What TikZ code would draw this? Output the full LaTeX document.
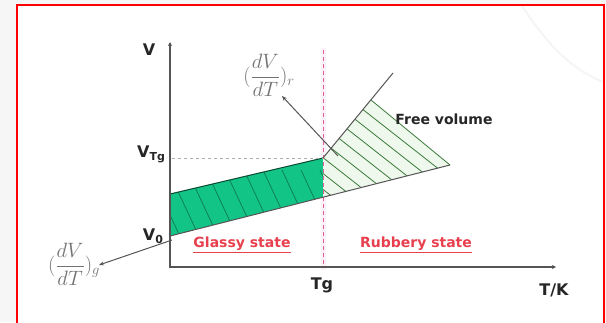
\documentclass[tikz,border=0pt]{standalone}
\usepackage{fontspec}
\setsansfont{DejaVu Sans}
\usetikzlibrary{arrows.meta,calc}
\definecolor{glassgreen}{HTML}{12C486}
\definecolor{hatchdark}{HTML}{0E7A52}
\definecolor{freefill}{HTML}{EEF8EC}
\definecolor{freehatch}{HTML}{3A7A3A}
\definecolor{axisgray}{HTML}{555555}
\definecolor{statered}{HTML}{E8404F}
\definecolor{tgpink}{HTML}{E0609A}
\begin{document}
\begin{tikzpicture}[x=1pt,y=-1pt,
  axislab/.style={font=\sffamily\bfseries\fontsize{16}{18}\selectfont, text=black!85, inner sep=0pt},
  freelab/.style={font=\sffamily\bfseries\fontsize{14}{16}\selectfont, text=black!85, inner sep=0pt},
  statelab/.style={font=\sffamily\bfseries\fontsize{14}{16}\selectfont, text=statered, inner sep=0pt},
  fraclab/.style={text=black!55, font=\fontsize{20}{24}\selectfont, inner sep=0pt},
  axisline/.style={draw=axisgray, line width=1.1pt},
  curve/.style={draw=axisgray, line width=1pt},
  tip/.style={-{Stealth[length=5pt,width=4pt]}}]
\useasboundingbox (0,0) rectangle (606,322);
% background and frame
\fill[gray!7] (0,0) rectangle (606,322);
\fill[white] (17,5) rectangle (604,322);
\draw[gray!8, line width=2pt] (522,6) .. controls (548,45) and (570,68) .. (603,82);
\draw[red, line width=2pt] (17,324) -- (17,5) -- (604,5) -- (604,324);

% key points
\coordinate (O) at (170,267);
\coordinate (ytop) at (170,42);
\coordinate (xend) at (556,267);
\coordinate (G1) at (170,194);
\coordinate (G2) at (323,158);
\coordinate (G3) at (323,197.2);
\coordinate (G4) at (170,236);
\coordinate (B) at (371,100);
\coordinate (C) at (450,165);
\coordinate (R) at (393,73);

% Tg marker line (soft band)
\draw[tgpink!9, line width=5pt] (323,48) -- (323,270);

% glassy region
\fill[glassgreen] (G1) -- (G2) -- (G3) -- (G4) -- cycle;
\begin{scope}
  \clip (G1) -- (G2) -- (G3) -- (G4) -- cycle;
  \foreach \x in {130,149,...,340} \draw[hatchdark, line width=0.7pt] (\x,170) -- ++(35,75);
\end{scope}
\draw[hatchdark!60!black, line width=1pt] (G1) -- (G2);

% free volume region
\fill[freefill] (G2) -- (B) -- (C) -- (G3) -- cycle;
\begin{scope}
  \clip (G2) -- (B) -- (C) -- (G3) -- cycle;
  \foreach \k in {1,...,12} \draw[freehatch, line width=0.8pt] ({371-7.97*\k},{100+9.63*\k}) ++(-79,-62) -- ++(158,124);
\end{scope}
\draw[freehatch, line width=0.8pt] (B) -- (C);

% dashed guides
\draw[tgpink, line width=1pt, dash pattern=on 4pt off 3pt] (323,50) -- (323,268);
\draw[gray!65, line width=0.8pt, dash pattern=on 3pt off 3pt] (172,158) -- (G2);

% lines
\draw[curve] (G4) -- (C);
\draw[curve] (G2) -- (R);

% axes
\draw[axisline, {Stealth[length=4pt,width=4pt]}-{Stealth[length=4pt,width=4pt]}] (ytop) -- (O) -- (xend);

% labels
\node[axislab] (vlab) at (149,50) {V};
\node[axislab] (vtg) at (151,154) {V\raisebox{-0.35ex}{\fontsize{11}{12}\selectfont Tg}};
\node[axislab] (v0) at (153,236) {V\raisebox{-0.35ex}{\fontsize{11}{12}\selectfont 0}};
\node[axislab] (tg) at (322,285) {Tg};
\node[axislab] (tk) at (554,290) {T/K};
\node[freelab] (free) at (444,119) {Free volume};
\node[statelab] (glassy) at (242,245) {\underline{Glassy state}};
\node[statelab] (rubbery) at (416,245) {\underline{Rubbery state}};
\node[fraclab] (dvr) at (269,75) {$\displaystyle(\frac{dV}{dT})_r$};
\node[fraclab] (dvg) at (74,264) {$\displaystyle(\frac{dV}{dT})_g$};

% slope arrows
\coordinate (rstart) at (338,156);
\coordinate (rtip) at (282,96);
\draw[curve, tip] (rstart) -- (rtip);
\coordinate (gstart) at (172,240);
\coordinate (gtip) at (99,265);
\draw[curve, tip] (gstart) -- (gtip);
\end{tikzpicture}
\end{document}
